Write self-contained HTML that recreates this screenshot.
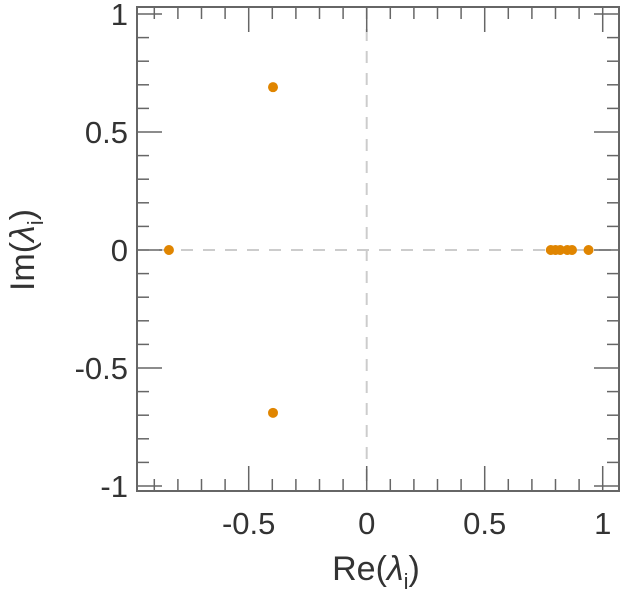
<!DOCTYPE html>
<html><head><meta charset="utf-8"><style>
body{margin:0;background:#fff;}
svg text{font-family:"Liberation Sans",sans-serif;fill:#333;}
</style></head><body>
<svg id="chart" width="623" height="600" xmlns="http://www.w3.org/2000/svg">
<g id="grid"></g><g id="ticks"></g><g id="pts"></g>
<rect x="137" y="7" width="482" height="484" fill="none" stroke="#666" stroke-width="2"/>
<text x="376" y="580" font-size="34" text-anchor="middle">Re(<tspan font-style="italic">λ</tspan><tspan font-size="22" dy="9">i</tspan><tspan dy="-9">)</tspan></text>
<text transform="translate(34,250) rotate(-90)" font-size="34" text-anchor="middle">Im(<tspan font-style="italic">λ</tspan><tspan font-size="22" dy="9">i</tspan><tspan dy="-9">)</tspan></text>
</svg>
<script>
const re=[-0.838,-0.397,-0.397,0.78,0.80,0.82,0.85,0.87,0.94];
const im=[0,0.69,-0.69,0,0,0,0,0,0];
const xTicks=[-0.5,0,0.5,1];
const xTickLabels=["-0.5","0","0.5","1"];
const yTicks=[-1,-0.5,0,0.5,1];
const yTickLabels=["-1","-0.5","0","0.5","1"];
const L=137,R=619,T=7,B=491;
const sx=v=>366.7+v*236, sy=v=>250-v*236;
const NS="http://www.w3.org/2000/svg";
function mk(p,tag,a){const e=document.createElementNS(NS,tag);for(const k in a)e.setAttribute(k,a[k]);p.appendChild(e);return e;}
const g=document.getElementById('grid'),tk=document.getElementById('ticks'),pg=document.getElementById('pts');
let l=mk(g,'line',{x1:sx(0),x2:sx(0),y1:T,y2:B,stroke:'#ccc','stroke-width':2,'stroke-dasharray':'12,10'});


l=mk(g,'line',{x1:L,x2:R,y1:sy(0),y2:sy(0),stroke:'#ccc','stroke-width':2,'stroke-dasharray':'12,10'});


for(let i=-9;i<=10;i++){const v=i/10,x=sx(v),len=(i%5===0)?25:12;
 mk(tk,'line',{x1:x,x2:x,y1:B,y2:B-len,stroke:'#666','stroke-width':1.5});
 mk(tk,'line',{x1:x,x2:x,y1:T,y2:T+len,stroke:'#666','stroke-width':1.5});}
for(let i=-10;i<=10;i++){const v=i/10,y=sy(v),len=(i%5===0)?25:12;
 mk(tk,'line',{x1:L,x2:L+len,y1:y,y2:y,stroke:'#666','stroke-width':1.5});
 mk(tk,'line',{x1:R,x2:R-len,y1:y,y2:y,stroke:'#666','stroke-width':1.5});}
xTicks.forEach((v,i)=>{const t=mk(tk,'text',{x:sx(v),y:534,'font-size':31,'text-anchor':'middle'});t.textContent=xTickLabels[i];
 
 });
yTicks.forEach((v,i)=>{const t=mk(tk,'text',{x:128,y:sy(v)+11,'font-size':31,'text-anchor':'end'});t.textContent=yTickLabels[i];
 
 });
re.forEach((v,i)=>{const c=mk(pg,'circle',{cx:sx(v),cy:sy(im[i]),r:5,fill:'#e08500'});
 
 });
</script>
</body></html>
